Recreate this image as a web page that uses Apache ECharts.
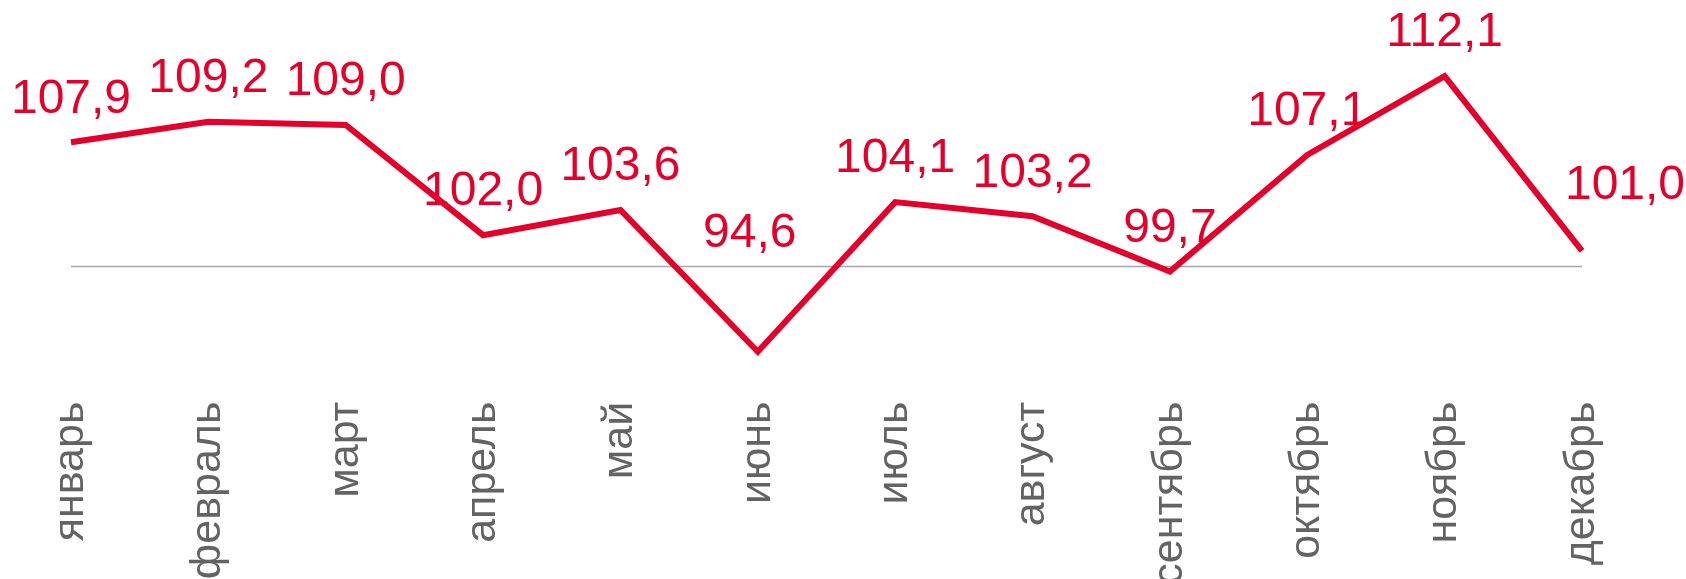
<!DOCTYPE html>
<html>
<head>
<meta charset="utf-8">
<style>
html,body{margin:0;padding:0;background:#fff;}
#chart{width:1686px;height:579px;}
</style>
<script src="https://cdn.jsdelivr.net/npm/echarts@6/dist/echarts.min.js"></script>
</head>
<body>
<div id="chart"></div>
<script>
var months = ['январь','февраль','март','апрель','май','июнь','июль','август','сентябрь','октябрь','ноябрь','декабрь'];
var values = [107.9, 109.2, 109.0, 102.0, 103.6, 94.6, 104.1, 103.2, 99.7, 107.1, 112.1, 101.0];
var baseValue = 100;

var labelOffsets = {5: [-8, -75], 11: [43, -22]};

var seriesData = values.map(function (v, i) {
  var item = {value: v};
  if (labelOffsets[i]) item.label = {offset: labelOffsets[i]};
  return item;
});

var chart = echarts.init(document.getElementById('chart'));
chart.setOption({
  animation: false,
  grid: {left: 71, right: 104, top: 14.7, height: 378, outerBoundsMode: 'none', containLabel: false},
  xAxis: {
    type: 'category',
    data: months,
    boundaryGap: false,
    axisLine: {show: false},
    axisTick: {show: false},
    splitLine: {show: false},
    axisLabel: {
      rotate: 90,
      margin: 9,
      color: '#636363',
      fontSize: 43,
      fontFamily: 'Liberation Sans, Arial, sans-serif',
      interval: 0
    }
  },
  yAxis: {
    type: 'value',
    min: 92,
    max: 116,
    show: false,
    splitLine: {show: false}
  },
  series: [{
    type: 'line',
    data: seriesData,
    z: 3,
    symbol: 'circle',
    symbolSize: 0.01,
    showSymbol: true,
    itemStyle: {color: '#E4002B'},
    lineStyle: {color: '#E4002B', width: 6, join: 'miter'},
    label: {
      show: true,
      position: 'top',
      distance: 19,
      color: '#E4002B',
      fontSize: 48,
      fontFamily: 'Liberation Sans, Arial, sans-serif',
      formatter: function (p) { return p.value.toFixed(1).replace('.', ','); }
    },
    markLine: {
      silent: true,
      symbol: 'none',
      z: 1,
      label: {show: false},
      lineStyle: {color: '#A6A6A6', width: 1.3, type: 'solid'},
      data: [{yAxis: baseValue}]
    }
  }]
});
</script>
</body>
</html>
